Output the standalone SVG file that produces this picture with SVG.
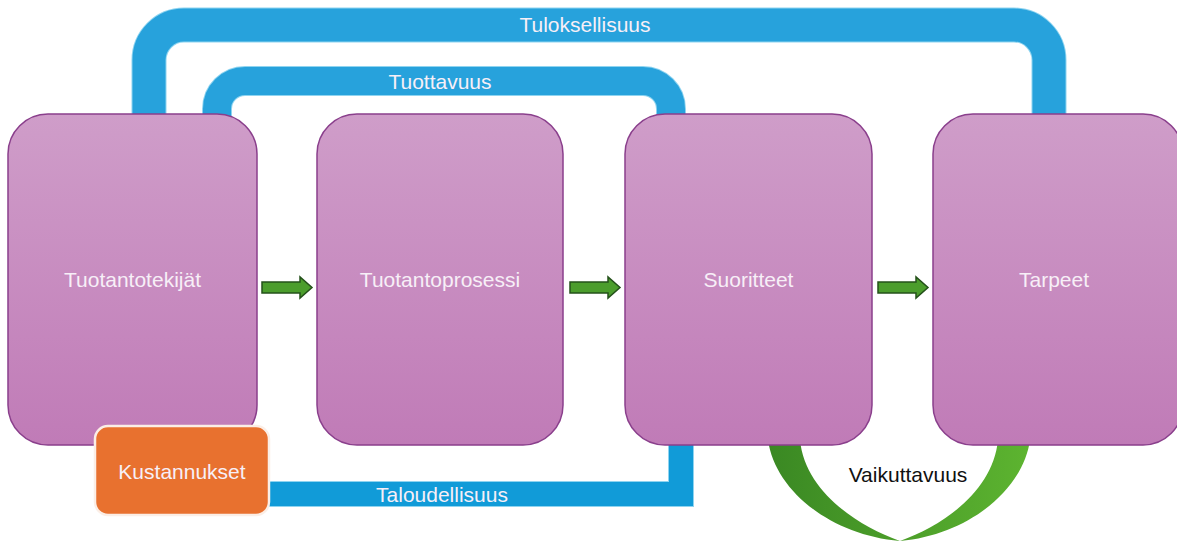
<svg xmlns="http://www.w3.org/2000/svg" width="1177" height="542" viewBox="0 0 1177 542">
<defs>
<linearGradient id="boxg" x1="0" y1="0" x2="0" y2="1">
<stop offset="0" stop-color="#cf9dc9"/>
<stop offset="1" stop-color="#c07bb7"/>
</linearGradient>
<linearGradient id="greeng" x1="0" y1="0" x2="1" y2="0">
<stop offset="0" stop-color="#3a8823"/>
<stop offset="1" stop-color="#5db430"/>
</linearGradient>
<linearGradient id="blueg" x1="0" y1="0" x2="0" y2="1">
<stop offset="0" stop-color="#3eabdf"/>
<stop offset="1" stop-color="#129bd8"/>
</linearGradient>
<style>
.box{fill:url(#boxg);stroke:#8a3f8c;stroke-width:1.5}
.lbl{font-family:"Liberation Sans",Arial,sans-serif;font-size:21px;text-anchor:middle}
.wt{fill:#f7eff7}
.bandEdge{fill:none;stroke:#8fd4f0}
.band{fill:none;stroke:#27a2dc}
.arrow{fill:#4b9d2c;stroke:#24511a;stroke-width:1.5}
</style>
</defs>
<g id="connectors">
<path class="bandEdge" stroke-width="35" d="M149 120 V60 A35 35 0 0 1 184 25 H1014 A35 35 0 0 1 1049 60 V120"/>
<path class="band" stroke-width="33" d="M149 120 V60 A35 35 0 0 1 184 25 H1014 A35 35 0 0 1 1049 60 V120"/>
<path class="bandEdge" stroke-width="30" d="M217 120 V109 A28 28 0 0 1 245 81 H643 A28 28 0 0 1 671 109 V120"/>
<path class="band" stroke-width="28" d="M217 120 V109 A28 28 0 0 1 245 81 H643 A28 28 0 0 1 671 109 V120"/>
<path fill="#8fd4f0" d="M255 481 H668 V438 H694 V507 H255 Z"/>
<path fill="#119bd8" d="M255 482 H669 V438 H693 V506 H255 Z"/>
<path id="vaikuttavuus-arc" fill="url(#greeng)" d="M768 440 C775 490 830 535 900 541 C968 535 1023 490 1030 440 L998 440 C993 490 945 525 900 541 C855 525 805 490 800 440 Z"/>
<polygon class="arrow" points="262,282 300,282 300,277 312,287.5 300,298 300,293 262,293"/>
<polygon class="arrow" points="570,282 608,282 608,277 620,287.5 608,298 608,293 570,293"/>
<polygon class="arrow" points="878,282 916,282 916,277 928,287.5 916,298 916,293 878,293"/>
<text class="lbl wt" x="585" y="32" font-size="20">Tuloksellisuus</text>
<text class="lbl wt" x="440" y="89">Tuottavuus</text>
<text class="lbl wt" x="442" y="502">Taloudellisuus</text>
<text class="lbl" x="908" y="482" fill="#111">Vaikuttavuus</text>
</g>
<g id="tuotantotekijat">
<rect class="box" x="8" y="114" width="249" height="331" rx="40"/>
<text class="lbl wt" x="132.5" y="287">Tuotantotekijät</text>
</g>
<g id="tuotantoprosessi">
<rect class="box" x="317" y="114" width="246" height="331" rx="40"/>
<text class="lbl wt" x="440" y="287">Tuotantoprosessi</text>
</g>
<g id="suoritteet">
<rect class="box" x="625" y="114" width="247" height="331" rx="40"/>
<text class="lbl wt" x="748.5" y="287">Suoritteet</text>
</g>
<g id="tarpeet">
<rect class="box" x="933" y="114" width="250" height="331" rx="40"/>
<text class="lbl wt" x="1054" y="287">Tarpeet</text>
</g>
<g id="kustannukset">
<rect x="95" y="426" width="174" height="89" rx="13" fill="#e8712f" stroke="#fbeee6" stroke-width="2.5"/>
<text class="lbl wt" x="182" y="479">Kustannukset</text>
</g>
</svg>
